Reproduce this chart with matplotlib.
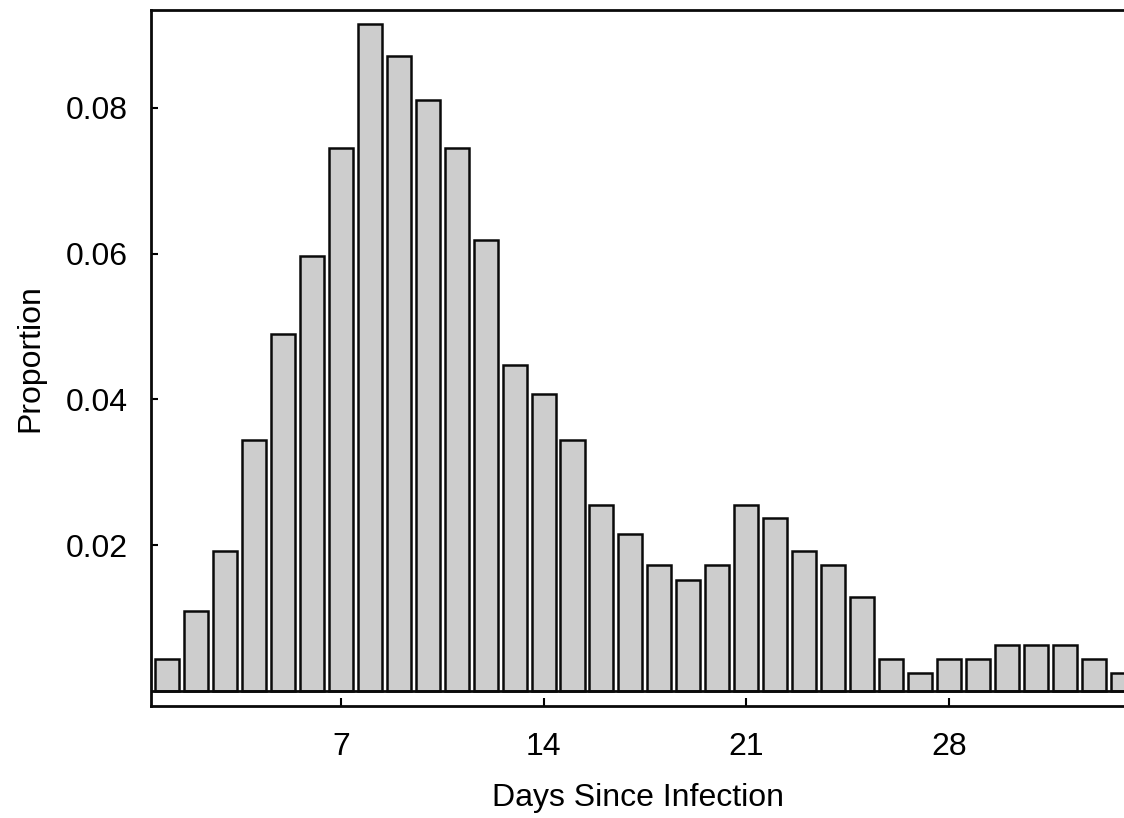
import matplotlib
matplotlib.use("Agg")
import matplotlib.pyplot as plt

days = list(range(1, 35))
proportion = [0.0045, 0.011, 0.0193, 0.0344, 0.049, 0.0597, 0.0745, 0.0915,
              0.087, 0.081, 0.0745, 0.0618, 0.0447, 0.0407, 0.0344, 0.0256,
              0.0216, 0.0173, 0.0153, 0.0173, 0.0256, 0.0237, 0.0193, 0.0173,
              0.0129, 0.0045, 0.0025, 0.0045, 0.0045, 0.0064, 0.0064, 0.0064,
              0.0045, 0.0025]
xticks = [7, 14, 21, 28]
yticks = [0.02, 0.04, 0.06, 0.08]
ytick_labels = ["0.02", "0.04", "0.06", "0.08"]

plt.rcParams['font.family'] = ['Liberation Sans', 'DejaVu Sans']

fig = plt.figure(figsize=(11.24, 8.18), dpi=100)
ax = fig.add_axes([151/1124, 1-706/818, 1-151/1124, (706-10)/818])

ax.bar(days, proportion, width=0.83, color='#cdcdcd', edgecolor='#0a0a0a',
       linewidth=1.8, zorder=2)
ax.axhline(0, color='#0a0a0a', linewidth=2.0, zorder=3)

ax.set_xlim(0.44, 34.05)
ax.set_ylim(-0.00199, 0.09336)

ax.set_xticks(xticks)
ax.set_yticks(yticks)
ax.set_yticklabels(ytick_labels)

ax.tick_params(axis='x', direction='in', length=5.5, width=1.5, pad=19, labelsize=23)
ax.tick_params(axis='y', direction='in', length=5, width=1.5, pad=17, labelsize=23)

for side in ['left', 'top', 'bottom']:
    ax.spines[side].set_linewidth(2.0)
    ax.spines[side].set_color('#0a0a0a')
ax.spines['right'].set_visible(False)

ax.set_xlabel("Days Since Infection", fontsize=23, labelpad=15)
ax.set_ylabel("Proportion", fontsize=23, labelpad=14)

fig.savefig("out.png", dpi=100)
